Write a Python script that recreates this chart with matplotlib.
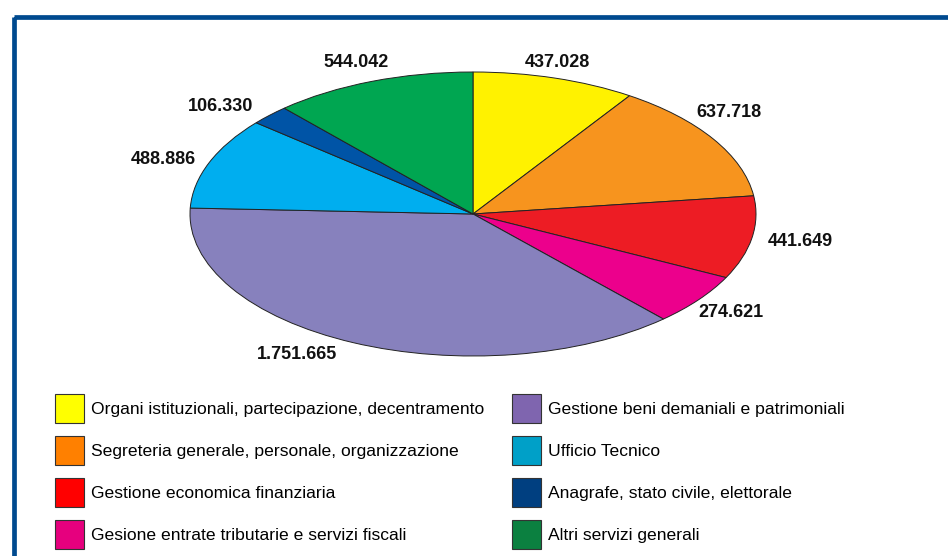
import matplotlib
matplotlib.use('Agg')
import matplotlib.pyplot as plt
from matplotlib.patches import Rectangle, Patch

# data (euro per servizio)
categories = ['Organi istituzionali, partecipazione, decentramento',
              'Segreteria generale, personale, organizzazione',
              'Gestione economica finanziaria',
              'Gesione entrate tributarie e servizi fiscali',
              'Gestione beni demaniali e patrimoniali',
              'Ufficio Tecnico',
              'Anagrafe, stato civile, elettorale',
              'Altri servizi generali']
values = [437028, 637718, 441649, 274621, 1751665, 488886, 106330, 544042]

#slice colours and legend colours (slightly different in the original)
pie_colors = ['#FFF200', '#F7941E', '#ED1C24', '#EC008C',
              '#8781BD', '#00AEEF', '#0054A6', '#00A651']
legend_colors = ['#FFFF00', '#FF8000', '#FF0000', '#E6007E',
                 '#7F65AF', '#00A0C8', '#003F80', '#0B8040']

#manual nudges of the value labels (pixels, x right / y up)
label_nudge = [(-11, -6), (-23, 15), (4, 0), (-4, 1),
               (-37, 9), (-4, -5), (-17, -7), (0, -2)]

plt.rcParams['font.family'] = ['Liberation Sans', 'DejaVu Sans']

W, H = 948, 556
fig = plt.figure(figsize=(W/100, H/100), dpi=100)

#background axes for the blue frame (pixel coords)
bg = fig.add_axes([0, 0, 1, 1])
bg.set_xlim(0, W)
bg.set_ylim(H, 0)
bg.axis('off')
bg.add_patch(Rectangle((14, 17), 1200, 1000, fill=False,
                       edgecolor='#004A8F', linewidth=3.4))

#pie axes = bounding box of the ellipse
cx, cy, rx, ry = 473, 214, 283, 142
ax = fig.add_axes([(cx-rx)/W, 1-(cy+ry)/H, 2*rx/W, 2*ry/H])

labels = [f'{v:,}'.replace(',', '.') for v in values]
wedges, texts = ax.pie(values, colors=pie_colors, startangle=90,
                       counterclock=False, labels=labels, labeldistance=1.16,
                       wedgeprops=dict(edgecolor='#222222', linewidth=0.7),
                       textprops=dict(fontsize=13, fontweight='bold', color='#111111'))
for w in wedges:
    w.set_clip_on(False)
for t, (nx, ny) in zip(texts, label_nudge):
    x, y = t.get_position()
    t.set_position((x + nx/rx, y + ny/ry))
    t.set_ha('center')
    t.set_va('center')
ax.set_aspect('auto')
ax.set_xlim(-1, 1)
ax.set_ylim(-1, 1)
ax.axis('off')

#legend
handles = [Patch(facecolor=c, edgecolor='#333333', linewidth=0.8) for c in legend_colors]
fs = 12.6
sq = 29*0.72  # square side in points
fig.legend(handles, categories, ncol=2, loc='upper left',
           bbox_to_anchor=(55/W, 1-394/H), frameon=False, borderpad=0,
           borderaxespad=0, fontsize=fs, handlelength=sq/fs,
           handleheight=(sq/fs-0.245)/0.65,
           handletextpad=5/fs, columnspacing=20/fs, labelspacing=0.74)

fig.savefig('out.png', dpi=100)
